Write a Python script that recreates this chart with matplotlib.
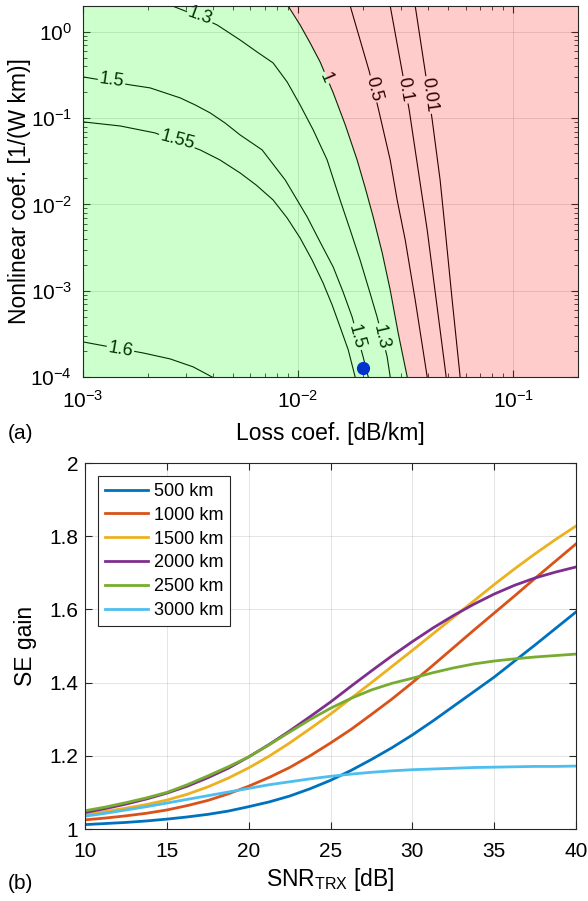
import matplotlib
matplotlib.use("Agg")
import matplotlib.pyplot as plt
from matplotlib.ticker import LogLocator, NullFormatter

plt.rcParams['font.family'] = ['Liberation Sans', 'DejaVu Sans']
plt.rcParams['mathtext.fontset'] = 'custom'
plt.rcParams['mathtext.rm'] = 'Liberation Sans'
plt.rcParams['mathtext.it'] = 'Liberation Sans:italic'
plt.rcParams['mathtext.bf'] = 'Liberation Sans:bold'

# (a) SE gain iso-lines: loss coef. [dB/km] vs nonlinear coef. [1/(W km)]
lvl_160_x = [1e-3, 1.336e-3, 1.90e-3, 2.54e-3, 3.25e-3, 3.98e-3]
lvl_160_y = [2.55e-4, 2.23e-4, 1.90e-4, 1.62e-4, 1.31e-4, 1e-4]

lvl_155_x = [1e-3, 1.49e-3, 2.16e-3, 3.50e-3, 4.33e-3, 5.37e-3, 6.38e-3, 7.65e-3, 8.89e-3,
             0.01021, 0.01161, 0.01306, 0.01439, 0.01567, 0.01710, 0.01841]
lvl_155_y = [0.0906, 0.0812, 0.0675, 0.0429, 0.0328, 0.0232, 0.0168, 0.01127, 6.97e-3,
             4.09e-3, 2.27e-3, 1.23e-3, 6.84e-4, 3.80e-4, 2.06e-4, 1e-4]

lvl_150_x = [1e-3, 1.66e-3, 2.05e-3, 2.83e-3, 3.32e-3, 3.90e-3, 4.57e-3, 5.37e-3, 6.80e-3,
             8.71e-3, 0.01102, 0.01265, 0.01456, 0.01618, 0.01782, 0.02005, 0.02118]
lvl_150_y = [0.301, 0.243, 0.2245, 0.1718, 0.1425, 0.1151, 0.0881, 0.0640, 0.0429,
             0.0192, 7.16e-3, 3.67e-3, 1.88e-3, 9.68e-4, 4.97e-4, 1.71e-4, 1e-4]

lvl_130_x = [2.60e-3, 3.32e-3, 4.20e-3, 5.37e-3, 6.44e-3, 7.65e-3, 8.89e-3, 0.01021, 0.01175,
             0.01364, 0.01567, 0.01746, 0.01941, 0.02138, 0.02328, 0.02484, 0.02593, 0.02679]
lvl_130_y = [2.0, 1.574, 1.205, 0.807, 0.586, 0.437, 0.263, 0.1425, 0.0731,
             0.0328, 0.01127, 5.06e-3, 2.27e-3, 1.02e-3, 4.97e-4, 2.68e-4, 1.71e-4, 1e-4]

lvl_100_x = [8.98e-3, 0.01021, 0.01137, 0.01265, 0.01456, 0.01656, 0.01880, 0.02051,
             0.02233, 0.02460, 0.02679, 0.02917, 0.03214]
lvl_100_y = [2.0, 1.205, 0.745, 0.449, 0.1963, 0.0836, 0.0328, 0.01553,
             7.16e-3, 2.74e-3, 1.02e-3, 3.24e-4, 1e-4]

lvl_050_x = [0.01746, 0.01941, 0.02138, 0.02355, 0.02679, 0.02886, 0.03147, 0.03501, 0.03981]
lvl_050_y = [2.0, 0.807, 0.353, 0.1315, 0.0328, 0.01127, 3.87e-3, 7.81e-4, 1e-4]

lvl_010_x = [0.02679, 0.03048, 0.03283, 0.03614, 0.03981, 0.04384, 0.04878]
lvl_010_y = [2.0, 0.344, 0.1247, 0.0251, 5.06e-3, 7.81e-4, 1e-4]

lvl_001_x = [0.03501, 0.03899, 0.04200, 0.04571, 0.04827, 0.05200, 0.05664]
lvl_001_y = [2.0, 0.344, 0.0955, 0.0192, 5.06e-3, 7.81e-4, 1e-4]

# operating point
op_loss = 0.02
op_nl = 1.27e-4

# (b) SE gain vs transceiver SNR for several distances
snr = [10, 11.25, 12.5, 13.75, 15, 16.25, 17.5, 18.75, 20, 21.25, 22.5, 23.75, 25,
       26.25, 27.5, 28.75, 30, 31.25, 32.5, 33.75, 35, 36.25, 37.5, 38.75, 40]
gain_500 = [1.012, 1.015, 1.018, 1.022, 1.027, 1.033, 1.040, 1.049, 1.061, 1.074, 1.090, 1.110, 1.133,
            1.160, 1.190, 1.222, 1.257, 1.295, 1.335, 1.375, 1.415, 1.459, 1.503, 1.548, 1.593]
gain_1000 = [1.025, 1.030, 1.036, 1.043, 1.052, 1.064, 1.078, 1.096, 1.117, 1.141, 1.168, 1.200, 1.235,
             1.272, 1.313, 1.355, 1.400, 1.447, 1.495, 1.543, 1.590, 1.637, 1.685, 1.732, 1.779]
gain_1500 = [1.040, 1.048, 1.057, 1.067, 1.079, 1.095, 1.115, 1.139, 1.167, 1.199, 1.235, 1.274, 1.314,
             1.357, 1.400, 1.444, 1.488, 1.533, 1.578, 1.623, 1.668, 1.711, 1.752, 1.791, 1.828]
gain_2000 = [1.045, 1.056, 1.068, 1.082, 1.098, 1.117, 1.140, 1.166, 1.197, 1.231, 1.268, 1.307, 1.347,
             1.390, 1.432, 1.473, 1.512, 1.549, 1.583, 1.614, 1.642, 1.666, 1.686, 1.702, 1.716]
gain_2500 = [1.050, 1.060, 1.072, 1.085, 1.100, 1.121, 1.145, 1.170, 1.197, 1.230, 1.265, 1.299, 1.330,
             1.357, 1.380, 1.398, 1.412, 1.427, 1.440, 1.451, 1.459, 1.465, 1.470, 1.474, 1.478]
gain_3000 = [1.035, 1.043, 1.052, 1.061, 1.071, 1.081, 1.091, 1.101, 1.111, 1.121, 1.129, 1.137, 1.144,
             1.150, 1.155, 1.159, 1.162, 1.164, 1.166, 1.168, 1.169, 1.170, 1.171, 1.171, 1.172]
distances = ['500 km', '1000 km', '1500 km', '2000 km', '2500 km', '3000 km']

colors = ['#0072BD', '#D95319', '#EDB120', '#7E2F8E', '#77AC30', '#4DBEEE']
frame_col = '#262626'

fig = plt.figure(figsize=(5.88, 9.01), dpi=100)

# ---------------- (a) ----------------
ax1 = fig.add_axes([0.1412, 0.5816, 0.8418, 0.4118])
ax1.set_xscale('log')
ax1.set_yscale('log')
ax1.set_xlim(1e-3, 0.2)
ax1.set_ylim(1e-4, 2)

levels = [(lvl_160_x, lvl_160_y), (lvl_155_x, lvl_155_y), (lvl_150_x, lvl_150_y),
          (lvl_130_x, lvl_130_y), (lvl_100_x, lvl_100_y), (lvl_050_x, lvl_050_y),
          (lvl_010_x, lvl_010_y), (lvl_001_x, lvl_001_y)]
for lx, ly in levels:
    ax1.plot(lx, ly, color='black', lw=0.8, zorder=1.8)

# inline labels (text, x, y, rotation)
clabels = [('1.6', 1.49e-3, 2.06e-4, -10), ('1.55', 2.74e-3, 0.056, -15),
           ('1.5', 1.36e-3, 0.277, -8), ('1.3', 3.5e-3, 1.52, -20),
           ('1.5', 0.01862, 2.91e-4, -75), ('1.3', 0.02432, 2.91e-4, -77),
           ('1', 0.01349, 0.293, -67), ('0.5', 0.02233, 0.218, -76),
           ('0.1', 0.03147, 0.213, -80), ('0.01', 0.04064, 0.186, -82)]
for txt, tx, ty, rot in clabels:
    ax1.text(tx, ty, txt, rotation=rot, rotation_mode='anchor', ha='center', va='center',
             fontsize=13, color='black', zorder=2.0,
             bbox=dict(facecolor='white', edgecolor='none', pad=1.0))

ax1.plot(op_loss, op_nl, 'o', color='blue', ms=8.5, zorder=2.1)

# shaded regions: gain > 1 (green) and gain < 1 (red)
ax1.fill_betweenx(lvl_100_y, 1e-3, lvl_100_x, color=(0, 1, 0), alpha=0.2, lw=0, zorder=2.2)
ax1.fill_betweenx(lvl_100_y, lvl_100_x, 0.2, color=(1, 0, 0), alpha=0.2, lw=0, zorder=2.2)

ax1.grid(True, which='major', color=frame_col, alpha=0.15, lw=0.6)
ax1.xaxis.set_major_locator(LogLocator(base=10, numticks=10))
ax1.yaxis.set_major_locator(LogLocator(base=10, numticks=10))
ax1.xaxis.set_minor_formatter(NullFormatter())
ax1.yaxis.set_minor_formatter(NullFormatter())
ax1.tick_params(which='both', direction='in', top=True, right=True, labelsize=15, color=frame_col)
ax1.tick_params(which='major', length=5)
ax1.tick_params(which='minor', length=3)
ax1.tick_params(axis='x', which='major', pad=9)
ax1.tick_params(axis='y', which='major', pad=8)
ax1.set_xlabel('Loss coef. [dB/km]', fontsize=16.5)
ax1.set_ylabel('Nonlinear coef. [1/(W km)]', fontsize=16.5)
ax1.xaxis.set_label_coords(0.5, -0.122)
ax1.yaxis.set_label_coords(-0.105, 0.5)
for s in ax1.spines.values():
    s.set_color(frame_col)
    s.set_linewidth(0.8)
fig.text(0.014, 0.519, '(a)', fontsize=15, va='center')

# ---------------- (b) ----------------
ax2 = fig.add_axes([0.1446, 0.0799, 0.835, 0.4062])
all_gains = [gain_500, gain_1000, gain_1500, gain_2000, gain_2500, gain_3000]
for g, c, name in zip(all_gains, colors, distances):
    ax2.plot(snr, g, color=c, lw=2, label=name)
ax2.set_xlim(10, 40)
ax2.set_ylim(1, 2)
ax2.set_xticks([10, 15, 20, 25, 30, 35, 40])
ax2.set_yticks([1, 1.2, 1.4, 1.6, 1.8, 2])
ax2.set_yticklabels(['1', '1.2', '1.4', '1.6', '1.8', '2'])
ax2.grid(True, color=frame_col, alpha=0.12, lw=0.7)
ax2.tick_params(direction='in', top=True, right=True, labelsize=15, length=5, color=frame_col)
ax2.tick_params(axis='x', pad=9)
ax2.tick_params(axis='y', pad=5)
ax2.set_xlabel(r'SNR$_{\mathrm{TRX}}$ [dB]', fontsize=16.5)
ax2.set_ylabel('SE gain', fontsize=16.5)
ax2.xaxis.set_label_coords(0.5, -0.1)
ax2.yaxis.set_label_coords(-0.097, 0.5)
for s in ax2.spines.values():
    s.set_color(frame_col)
    s.set_linewidth(0.8)
leg = ax2.legend(loc='upper left', fontsize=13, fancybox=False, framealpha=1,
                 edgecolor=frame_col, handlelength=2.4, borderpad=0.4,
                 labelspacing=0.38, handletextpad=0.3, borderaxespad=0.7)
leg.get_frame().set_linewidth(0.8)
fig.text(0.014, 0.019, '(b)', fontsize=15, va='center')

fig.savefig('out.png', dpi=100)
